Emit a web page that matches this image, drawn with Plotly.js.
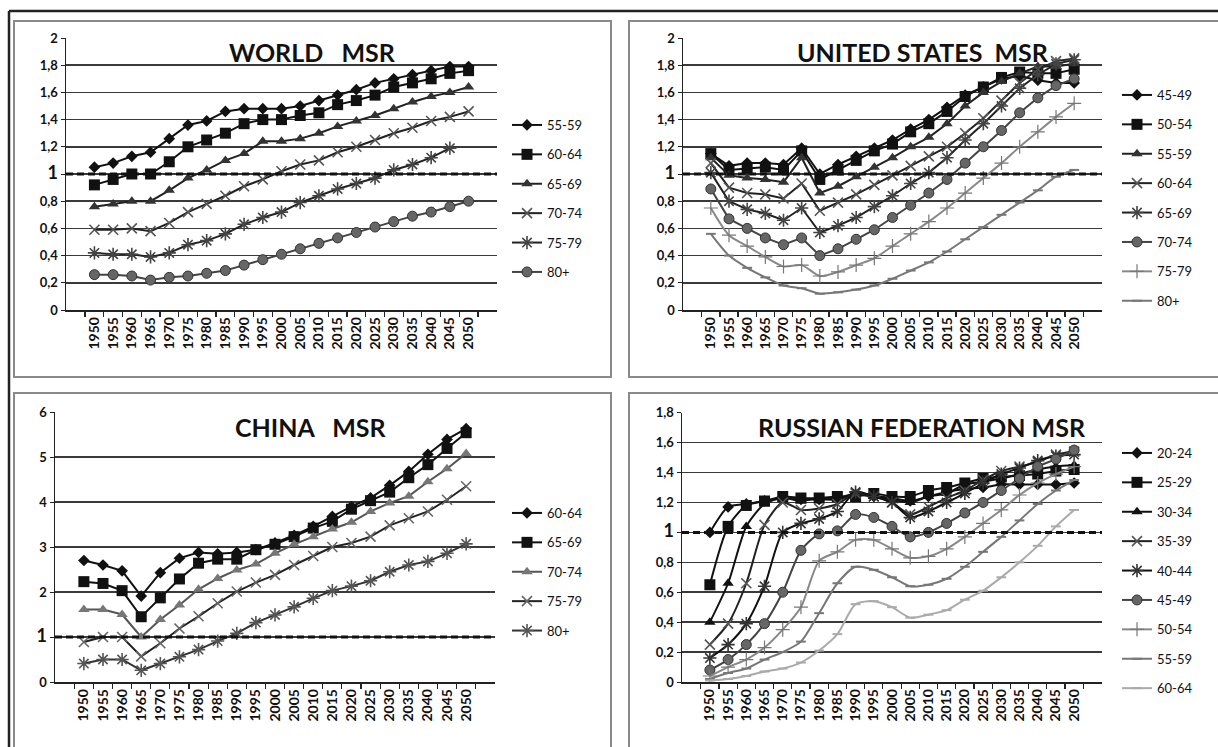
<!DOCTYPE html>
<html>
<head>
<meta charset="utf-8">
<script src="https://cdn.plot.ly/plotly-3.0.1.min.js"></script>
<style>html,body{margin:0;padding:0;background:#fff;}#chart{width:1218px;height:747px;}</style>
</head>
<body>
<div id="chart"></div>
<script>
// ---------- categories ----------
const years = ['1950','1955','1960','1965','1970','1975','1980','1985','1990','1995','2000','2005','2010','2015','2020','2025','2030','2035','2040','2045','2050'];

// ---------- tick labels ----------
const ticks2Vals = [0,0.2,0.4,0.6,0.8,1,1.2,1.4,1.6,1.8,2];
const ticks2Text = ['0','0,2','0,4','0,6','0,8','<b style="font-size:18px">1</b>','1,2','1,4','1,6','1,8','2'];
const ticks6Vals = [0,1,2,3,4,5,6];
const ticks6Text = ['0','<b style="font-size:18px">1</b>','2','3','4','5','6'];
const ticks18Vals = [0,0.2,0.4,0.6,0.8,1,1.2,1.4,1.6,1.8];
const ticks18Text = ['0','0,2','0,4','0,6','0,8','<b style="font-size:18px">1</b>','1,2','1,4','1,6','1,8'];

// ---------- WORLD ----------
const worldNames = ['55-59','60-64','65-69','70-74','75-79','80+'];
const world_55_59 = [1.05,1.08,1.13,1.16,1.26,1.36,1.39,1.46,1.48,1.48,1.48,1.50,1.54,1.58,1.62,1.67,1.70,1.73,1.76,1.79,1.79];
const world_60_64 = [0.92,0.96,1.00,1.00,1.09,1.20,1.25,1.30,1.37,1.40,1.40,1.43,1.45,1.51,1.54,1.58,1.64,1.67,1.70,1.74,1.76];
const world_65_69 = [0.76,0.78,0.80,0.80,0.88,0.97,1.03,1.10,1.15,1.24,1.24,1.26,1.30,1.35,1.39,1.43,1.48,1.53,1.57,1.60,1.64];
const world_70_74 = [0.59,0.59,0.60,0.58,0.64,0.72,0.78,0.84,0.91,0.96,1.02,1.07,1.10,1.16,1.20,1.25,1.30,1.34,1.39,1.42,1.46];
const world_75_79 = [0.42,0.41,0.41,0.39,0.42,0.48,0.51,0.56,0.63,0.68,0.72,0.79,0.84,0.89,0.93,0.97,1.03,1.07,1.12,1.19,null];
const world_80p   = [0.26,0.26,0.25,0.22,0.24,0.25,0.27,0.29,0.33,0.37,0.41,0.45,0.49,0.53,0.57,0.61,0.65,0.69,0.72,0.76,0.80];

// ---------- UNITED STATES ----------
const usNames = ['45-49','50-54','55-59','60-64','65-69','70-74','75-79','80+'];
const us_45_49 = [1.15,1.06,1.08,1.08,1.07,1.19,1.00,1.07,1.13,1.19,1.25,1.33,1.40,1.49,1.58,1.64,1.70,1.72,1.69,1.67,1.67];
const us_50_54 = [1.15,1.03,1.04,1.05,1.03,1.17,0.96,1.03,1.10,1.17,1.22,1.31,1.37,1.46,1.57,1.64,1.71,1.75,1.74,1.74,1.77];
const us_55_59 = [1.12,0.99,0.97,0.96,0.94,1.12,0.86,0.91,0.98,1.05,1.12,1.20,1.27,1.37,1.50,1.60,1.68,1.74,1.79,1.79,1.81];
const us_60_64 = [1.08,0.90,0.86,0.85,0.82,0.93,0.73,0.79,0.85,0.92,0.99,1.06,1.13,1.20,1.30,1.41,1.54,1.67,1.77,1.83,1.85];
const us_65_69 = [1.01,0.80,0.74,0.71,0.66,0.75,0.57,0.62,0.68,0.76,0.84,0.93,1.01,1.12,1.25,1.37,1.50,1.63,1.73,1.81,1.84];
const us_70_74 = [0.89,0.67,0.60,0.53,0.48,0.53,0.40,0.45,0.52,0.59,0.68,0.77,0.86,0.96,1.08,1.20,1.32,1.45,1.56,1.65,1.70];
const us_75_79 = [0.75,0.55,0.47,0.39,0.32,0.33,0.25,0.28,0.33,0.38,0.47,0.56,0.65,0.75,0.86,0.97,1.08,1.20,1.31,1.42,1.52];
const us_80p   = [0.56,0.40,0.31,0.24,0.18,0.16,0.12,0.13,0.15,0.18,0.23,0.29,0.35,0.43,0.52,0.61,0.70,0.79,0.88,0.98,1.03];

// ---------- CHINA ----------
const chinaNames = ['60-64','65-69','70-74','75-79','80+'];
const cn_60_64 = [2.70,2.60,2.47,1.91,2.43,2.75,2.88,2.85,2.88,2.94,3.09,3.26,3.46,3.68,3.90,4.09,4.37,4.68,5.06,5.39,5.63];
const cn_65_69 = [2.23,2.19,2.03,1.45,1.87,2.29,2.64,2.73,2.73,2.94,3.06,3.23,3.42,3.57,3.84,4.03,4.22,4.54,4.83,5.19,5.54];
const cn_70_74 = [1.61,1.61,1.50,1.00,1.39,1.71,2.06,2.30,2.49,2.62,2.86,3.06,3.23,3.40,3.55,3.79,3.98,4.13,4.45,4.74,5.08];
const cn_75_79 = [0.89,1.00,1.00,0.57,0.86,1.19,1.46,1.75,2.01,2.21,2.38,2.60,2.80,3.00,3.09,3.23,3.48,3.64,3.79,4.05,4.35];
const cn_80p   = [0.41,0.50,0.50,0.26,0.41,0.56,0.72,0.91,1.08,1.32,1.49,1.67,1.86,2.03,2.13,2.25,2.45,2.60,2.68,2.86,3.07];

// ---------- RUSSIAN FEDERATION ----------
const ruNames = ['20-24','25-29','30-34','35-39','40-44','45-49','50-54','55-59','60-64'];
const ru_20_24 = [1.00,1.17,1.19,1.21,1.23,1.22,1.22,1.22,1.25,1.24,1.23,1.21,1.24,1.27,1.29,1.30,1.32,1.32,1.32,1.32,1.33];
const ru_25_29 = [0.65,1.04,1.18,1.21,1.24,1.23,1.23,1.24,1.24,1.26,1.24,1.24,1.28,1.30,1.33,1.36,1.37,1.38,1.39,1.41,1.42];
const ru_30_34 = [0.40,0.66,1.04,1.19,1.23,1.21,1.23,1.23,1.26,1.24,1.22,1.20,1.24,1.26,1.32,1.34,1.36,1.39,1.42,1.44,1.45];
const ru_35_39 = [0.25,0.39,0.66,1.05,1.20,1.15,1.16,1.19,1.26,1.24,1.20,1.12,1.17,1.23,1.28,1.35,1.41,1.44,1.47,1.52,1.54];
const ru_40_44 = [0.16,0.25,0.39,0.64,1.00,1.06,1.09,1.14,1.27,1.24,1.20,1.10,1.14,1.20,1.26,1.33,1.39,1.43,1.48,1.51,1.52];
const ru_45_49 = [0.08,0.15,0.25,0.39,0.60,0.88,0.99,1.01,1.12,1.10,1.04,0.97,1.00,1.06,1.13,1.20,1.28,1.36,1.44,1.49,1.55];
const ru_50_54 = [0.04,0.10,0.15,0.23,0.35,0.50,0.81,0.87,0.95,0.95,0.89,0.83,0.84,0.89,0.97,1.06,1.15,1.25,1.33,1.39,1.44];
const ru_55_59 = [0.02,0.06,0.09,0.15,0.20,0.27,0.46,0.66,0.77,0.75,0.70,0.64,0.65,0.69,0.77,0.87,0.97,1.08,1.19,1.28,1.35];
const ru_60_64 = [0.01,0.02,0.04,0.07,0.09,0.13,0.21,0.32,0.52,0.54,0.50,0.43,0.45,0.48,0.55,0.61,0.70,0.80,0.91,1.04,1.15];

// ---------- marker styles ----------
const M = {
  diamond:  {symbol:'diamond', size:9},
  square:   {symbol:'square', size:11},
  triangle: {symbol:'triangle-up', size:10},
  x:        {symbol:'x-thin-open', size:10, open:true, lw:1.6},
  star:     {symbol:'asterisk-open', size:11, open:true, lw:1.6},
  circle:   {symbol:'circle', size:10},
  plus:     {symbol:'cross-thin-open', size:10, open:true, lw:1.2},
  dash:     {symbol:'line-ew-open', size:7, open:true, lw:2}
};

function tr(name, y, ax, leg, mk, color, mcolor, shape) {
  const m = M[mk];
  const marker = {symbol:m.symbol, size:m.size, color: mcolor || color,
                  line: m.open ? {color: mcolor || color, width: m.lw} : {color: mk==='circle' ? '#333' : (mcolor||color), width: mk==='circle'?1:0}};
  return {
    type:'scatter', mode:'lines+markers', name:name, x:years, y:y,
    xaxis:'x'+ax, yaxis:'y'+ax, legend:leg, legendgroup:leg+name,
    line:{color:color, width:2, shape: shape||'linear', smoothing:0.7},
    marker:marker, connectgaps:false, hoverinfo:'skip'
  };
}

const data = [
  tr(worldNames[0], world_55_59, '', 'legend', 'diamond', '#111'),
  tr(worldNames[1], world_60_64, '', 'legend', 'square', '#111'),
  tr(worldNames[2], world_65_69, '', 'legend', 'triangle', '#222', '#333'),
  tr(worldNames[3], world_70_74, '', 'legend', 'x', '#222', '#555'),
  tr(worldNames[4], world_75_79, '', 'legend', 'star', '#222', '#444'),
  tr(worldNames[5], world_80p,   '', 'legend', 'circle', '#444', '#666'),

  tr(usNames[0], us_45_49, '2', 'legend2', 'diamond', '#111'),
  tr(usNames[1], us_50_54, '2', 'legend2', 'square', '#111'),
  tr(usNames[2], us_55_59, '2', 'legend2', 'triangle', '#222', '#333'),
  tr(usNames[3], us_60_64, '2', 'legend2', 'x', '#222', '#555'),
  tr(usNames[4], us_65_69, '2', 'legend2', 'star', '#222', '#444'),
  tr(usNames[5], us_70_74, '2', 'legend2', 'circle', '#444', '#666'),
  tr(usNames[6], us_75_79, '2', 'legend2', 'plus', '#888', '#777', 'spline'),
  tr(usNames[7], us_80p,   '2', 'legend2', 'dash', '#777', '#777', 'spline'),

  tr(chinaNames[0], cn_60_64, '3', 'legend3', 'diamond', '#111'),
  tr(chinaNames[1], cn_65_69, '3', 'legend3', 'square', '#111'),
  tr(chinaNames[2], cn_70_74, '3', 'legend3', 'triangle', '#555', '#777'),
  tr(chinaNames[3], cn_75_79, '3', 'legend3', 'x', '#222', '#666'),
  tr(chinaNames[4], cn_80p,   '3', 'legend3', 'star', '#333', '#555'),

  tr(ruNames[0], ru_20_24, '4', 'legend4', 'diamond', '#111', null, 'spline'),
  tr(ruNames[1], ru_25_29, '4', 'legend4', 'square', '#111', null, 'spline'),
  tr(ruNames[2], ru_30_34, '4', 'legend4', 'triangle', '#111', null, 'spline'),
  tr(ruNames[3], ru_35_39, '4', 'legend4', 'x', '#222', '#555', 'spline'),
  tr(ruNames[4], ru_40_44, '4', 'legend4', 'star', '#111', '#333', 'spline'),
  tr(ruNames[5], ru_45_49, '4', 'legend4', 'circle', '#444', '#666', 'spline'),
  tr(ruNames[6], ru_50_54, '4', 'legend4', 'plus', '#888', '#777', 'spline'),
  tr(ruNames[7], ru_55_59, '4', 'legend4', 'dash', '#777', '#777', 'spline'),
  tr(ruNames[8], ru_60_64, '4', 'legend4', 'dash', '#aaa', '#aaa', 'spline')
];

const W = 1218, H = 747;
const px = v => v / W;
const py = v => 1 - v / H;
const FONT = 'Lato, "DejaVu Sans", sans-serif';

function xax(x0, x1, anchor) {
  return {domain:[px(x0), px(x1)], anchor:anchor, type:'category', showgrid:false,
    showline:true, linecolor:'#222', linewidth:1.5, ticks:'outside', ticklen:5, tickwidth:1.2, tickcolor:'#222',
    tickson:'boundaries', tickangle:-90, tickfont:{family:FONT, size:14, color:'#111', weight:'bold'}, zeroline:false, fixedrange:true};
}
function yax(y0, y1, anchor, range, vals, text) {
  return {domain:[py(y1), py(y0)], anchor:anchor, range:range, tickmode:'array', tickvals:vals, ticktext:text,
    showgrid:true, gridcolor:'#3a3a3a', gridwidth:1.5, showline:true, linecolor:'#222', linewidth:1.5,
    ticks:'outside', ticklen:4, tickcolor:'#222', tickfont:{family:FONT, size:13, color:'#111', weight:'bold'},
    zeroline:false, fixedrange:true};
}
function leg(x, yTop) {
  return {x:px(x), y:py(yTop), xanchor:'left', yanchor:'top', bgcolor:'rgba(0,0,0,0)', borderwidth:0,
    font:{family:FONT, size:13, color:'#111'}, tracegroupgap:9.5, traceorder:'grouped', itemwidth:30};
}
function dashLine(ax) {
  return {type:'line', xref:'x'+ax+' domain', yref:'y'+ax, x0:0, x1:1, y0:1, y1:1,
    line:{color:'#111', width:3, dash:'7px,4px'}, layer:'above'};
}
function box(x0, y0, x1, y1) {
  return {type:'rect', xref:'paper', yref:'paper', x0:px(x0), x1:px(x1), y0:py(y1), y1:py(y0),
    line:{color:'#8a8a8a', width:2}, fillcolor:'rgba(0,0,0,0)', layer:'below'};
}
function title(text, xc, yc) {
  return {text:'<b>'+text+'</b>', xref:'paper', yref:'paper', x:px(xc), y:py(yc), xanchor:'center', yanchor:'middle',
    showarrow:false, font:{family:FONT, size:25, color:'#111'}};
}

const layout = {
  width:W, height:H, margin:{l:0, r:0, t:0, b:0}, paper_bgcolor:'#fff', plot_bgcolor:'rgba(0,0,0,0)',
  font:{family:FONT, color:'#111'}, showlegend:true,
  xaxis: xax(66, 497, 'y'),   yaxis: yax(38, 310, 'x', [0,2], ticks2Vals, ticks2Text),
  xaxis2: xax(683, 1102, 'y2'), yaxis2: yax(38, 310, 'x2', [0,2], ticks2Vals, ticks2Text),
  xaxis3: xax(55, 495, 'y3'), yaxis3: yax(412, 682, 'x3', [0,6], ticks6Vals, ticks6Text),
  xaxis4: xax(682, 1102, 'y4'), yaxis4: yax(412.7, 682, 'x4', [0,1.8], ticks18Vals, ticks18Text),
  legend: leg(507, 110),
  legend2: leg(1117, 80),
  legend3: leg(507, 498),
  legend4: leg(1117, 438),
  shapes: [
    {type:'line', xref:'paper', yref:'paper', x0:px(9), x1:px(1230), y0:py(11), y1:py(11), line:{color:'#222', width:2.5}},
    {type:'line', xref:'paper', yref:'paper', x0:px(9), x1:px(9), y0:py(11), y1:py(760), line:{color:'#222', width:2.5}},
    box(14, 21, 611, 377), box(629, 21, 1230, 377), box(14, 393, 611, 760), box(629, 393, 1230, 760),
    dashLine(''), dashLine('2'), dashLine('3'), dashLine('4')
  ],
  annotations: [
    title('WORLD &nbsp; MSR', 312, 52),
    title('UNITED STATES &nbsp;MSR', 923, 52),
    title('CHINA &nbsp; MSR', 311, 427),
    title('RUSSIAN FEDERATION MSR', 922, 427)
  ]
};

Plotly.newPlot('chart', data, layout, {staticPlot:true, displayModeBar:false});
</script>
</body>
</html>
